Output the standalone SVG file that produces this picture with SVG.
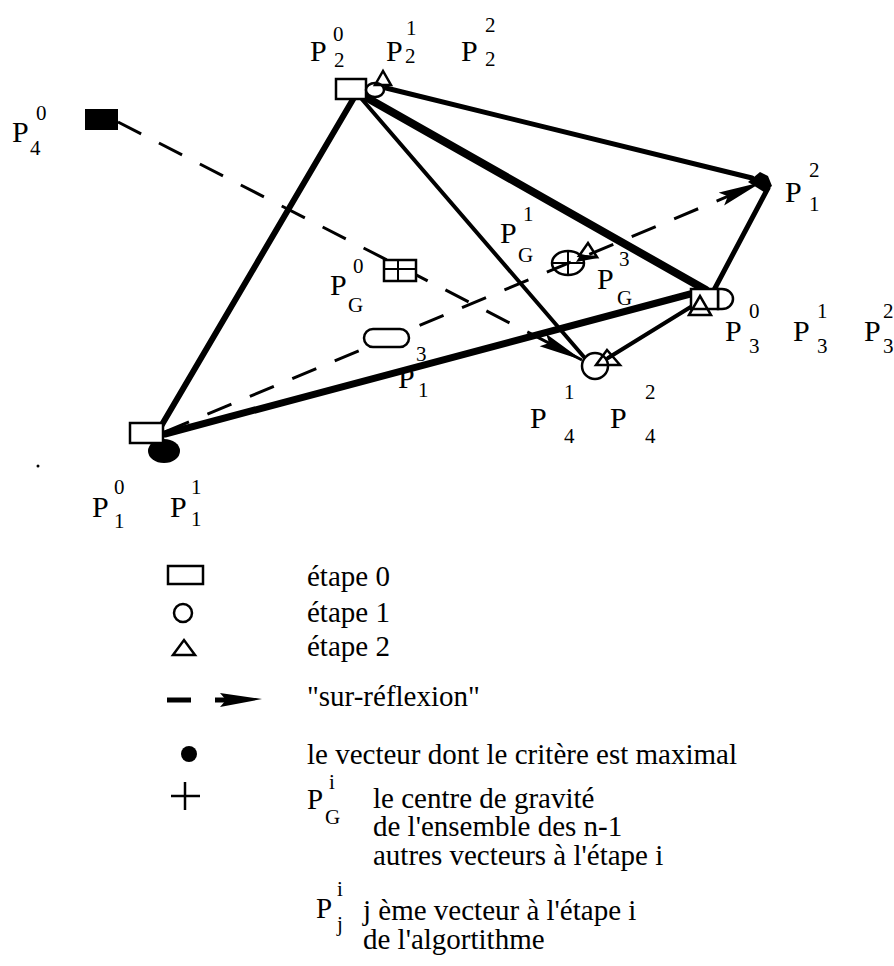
<svg xmlns="http://www.w3.org/2000/svg" width="894" height="966" viewBox="0 0 894 966">
<defs>
<marker id="ah" viewBox="0 0 44 16" refX="44" refY="8" markerWidth="44" markerHeight="16" markerUnits="userSpaceOnUse" orient="auto">
<path d="M0,1 L44,8 L0,15 L7,8 Z" fill="#000"/>
</marker>
<style>
.t{font-family:"Liberation Serif","Times New Roman",serif;font-size:30px;fill:#000}
.i{font-family:"Liberation Serif","Times New Roman",serif;font-size:21px;fill:#000}
.lg{font-family:"Liberation Serif","Times New Roman",serif;font-size:29px;fill:#000}
.s{stroke:#000;stroke-linecap:round;fill:none}
.d{stroke:#000;stroke-width:3;stroke-dasharray:26 20;fill:none}
.m{fill:#fff;stroke:#000;stroke-width:2.5}
.o{fill:none;stroke:#000;stroke-width:2.5}
</style>
</defs>
<rect width="894" height="966" fill="#fff"/>

<g id="connectors">
<line class="s" x1="355" y1="96" x2="160" y2="428" stroke-width="6"/>
<line class="s" x1="362" y1="95" x2="706" y2="290" stroke-width="8"/>
<line class="s" x1="360" y1="97" x2="584" y2="357" stroke-width="4"/>
<line class="s" x1="386" y1="88" x2="752" y2="178" stroke-width="5"/>
<line class="s" x1="165" y1="434" x2="694" y2="293" stroke-width="7"/>
<line class="s" x1="768" y1="188" x2="714" y2="290" stroke-width="5"/>
<line class="s" x1="702" y1="300" x2="608" y2="358" stroke-width="4"/>
<line class="d" x1="118" y1="122" x2="582" y2="360" marker-end="url(#ah)"/>
<line class="d" x1="165" y1="432" x2="762" y2="182" marker-end="url(#ah)"/>
</g>

<g id="P1">
<ellipse cx="164" cy="451" rx="16" ry="12" fill="#000"/>
<rect class="m" x="130" y="423" width="33" height="20"/>
<text class="t" x="92" y="517">P</text><text class="i" x="114" y="494">0</text><text class="i" x="114" y="528">1</text>
<text class="t" x="170" y="517">P</text><text class="i" x="191" y="494">1</text><text class="i" x="191" y="526">1</text>
</g>

<g id="P2">
<rect class="m" x="336" y="79" width="30" height="20"/>
<ellipse class="m" cx="375" cy="90" rx="9" ry="7"/>
<polygon class="o" points="375,85 383,71 391,85"/>
<text class="t" x="310" y="61">P</text><text class="i" x="333" y="41">0</text><text class="i" x="334" y="67">2</text>
<text class="t" x="386" y="61">P</text><text class="i" x="406" y="35">1</text><text class="i" x="405" y="63">2</text>
<text class="t" x="461" y="61">P</text><text class="i" x="485" y="32">2</text><text class="i" x="485" y="66">2</text>
</g>

<g id="P3">
<path class="m" d="M718,289 L722,289 A11,10 0 0 1 722,309 L718,309 Z"/>
<rect class="m" x="691" y="289" width="27" height="20"/>
<polygon class="o" points="689,315 700,296 711,315"/>
<text class="t" x="725" y="341">P</text><text class="i" x="749" y="318">0</text><text class="i" x="749" y="353">3</text>
<text class="t" x="793" y="341">P</text><text class="i" x="817" y="318">1</text><text class="i" x="817" y="353">3</text>
<text class="t" x="864" y="341">P</text><text class="i" x="883" y="318">2</text><text class="i" x="883" y="353">3</text>
</g>

<g id="P4">
<circle class="m" cx="595" cy="366" r="13"/>
<polygon class="o" points="596,365 607,350 620,365"/>
<text class="t" x="530" y="428">P</text><text class="i" x="564" y="399">1</text><text class="i" x="564" y="443">4</text>
<text class="t" x="610" y="428">P</text><text class="i" x="645" y="399">2</text><text class="i" x="645" y="443">4</text>
</g>

<g id="P4_0">
<rect x="85" y="109" width="33" height="21" fill="#000"/>
<text class="t" x="12" y="142">P</text><text class="i" x="36" y="120">0</text><text class="i" x="30" y="155">4</text>
</g>

<g id="P1_2">
<polygon points="748,182 760,172 768,176 772,186 764,192" fill="#000"/>
<text class="t" x="785" y="202">P</text><text class="i" x="809" y="177">2</text><text class="i" x="809" y="211">1</text>
</g>

<g id="PG0">
<rect class="m" x="384" y="260" width="32" height="21"/>
<line x1="384" y1="269" x2="416" y2="269" stroke="#000" stroke-width="2"/>
<line x1="398" y1="260" x2="398" y2="281" stroke="#000" stroke-width="2"/>
<text class="t" x="330" y="295">P</text><text class="i" x="353" y="273">0</text><text class="i" x="348" y="312">G</text>
</g>

<g id="PG1">
<ellipse class="o" cx="568" cy="263" rx="16" ry="12"/>
<line x1="552" y1="263" x2="584" y2="263" stroke="#000" stroke-width="2"/>
<line x1="568" y1="251" x2="568" y2="275" stroke="#000" stroke-width="2"/>
<polygon class="o" points="579,256 588,243 597,257"/>
<polygon points="576,262 598,258 581,254" fill="#000"/>
<text class="t" x="500" y="243">P</text><text class="i" x="523" y="221">1</text><text class="i" x="518" y="262">G</text>
</g>

<g id="PG3">
<text class="t" x="597" y="289">P</text><text class="i" x="619" y="266">3</text><text class="i" x="617" y="305">G</text>
</g>

<g id="P1_3">
<rect class="m" x="364" y="329" width="45" height="18" rx="9"/>
<text class="t" x="398" y="388">P</text><text class="i" x="416" y="361">3</text><text class="i" x="418" y="397">1</text>
</g>

<circle cx="38" cy="466" r="1.5" fill="#000"/>

<g id="legend">
<rect class="o" x="168" y="566" width="35" height="18"/>
<text class="lg" x="307" y="586">étape 0</text>
<circle class="o" cx="183" cy="613" r="9"/>
<text class="lg" x="307" y="622">étape 1</text>
<polygon class="o" points="173,655 184,640 195,655"/>
<text class="lg" x="307" y="656">étape 2</text>
<line x1="167" y1="700" x2="191" y2="700" stroke="#000" stroke-width="5"/>
<line x1="215" y1="700" x2="230" y2="700" stroke="#000" stroke-width="5"/>
<path d="M220,693 L262,699 L220,707 L226,700 Z" fill="#000"/>
<text class="lg" x="307" y="706">"sur-réflexion"</text>
<circle cx="189" cy="754" r="8" fill="#000"/>
<text class="lg" x="307" y="764">le vecteur dont le critère est maximal</text>
<line x1="171" y1="796" x2="200" y2="796" stroke="#000" stroke-width="2.5"/>
<line x1="185" y1="782" x2="185" y2="810" stroke="#000" stroke-width="2.5"/>
<text class="lg" x="307" y="809">P</text><text class="i" x="329" y="789">i</text><text class="i" x="325" y="824">G</text>
<text class="lg" x="373" y="808">le centre de gravité</text>
<text class="lg" x="373" y="836">de l'ensemble des n-1</text>
<text class="lg" x="373" y="865">autres vecteurs à l'étape i</text>
<text class="lg" x="316" y="918">P</text><text class="i" x="337" y="896">i</text><text class="i" x="337" y="931">j</text>
<text class="lg" x="363" y="920">j ème vecteur à l'étape i</text>
<text class="lg" x="363" y="949">de l'algortithme</text>
</g>
</svg>
